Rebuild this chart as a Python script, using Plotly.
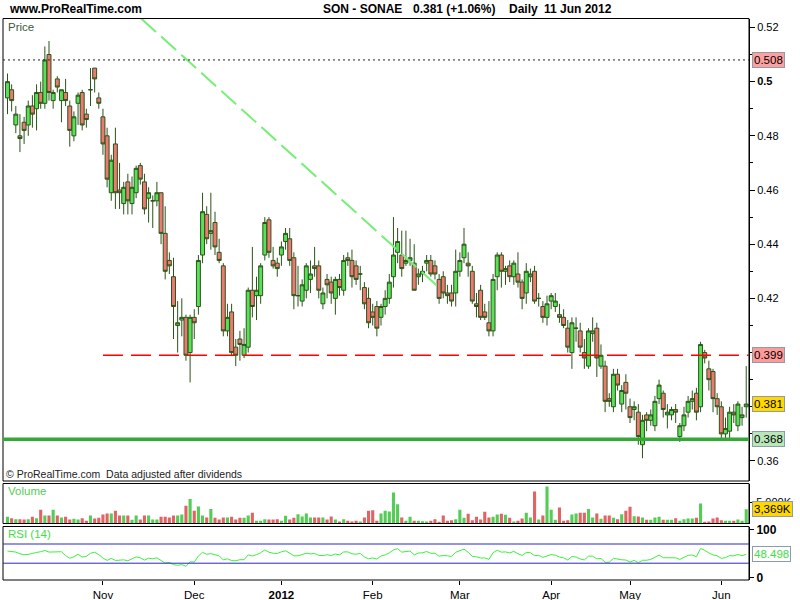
import numpy as np
import plotly.graph_objects as go

W, H = 800, 600

# ---------------- data ----------------
opens = [0.494, 0.497, 0.484, 0.480, 0.485, 0.484, 0.491, 0.490, 0.496, 0.492,
         0.510, 0.493, 0.501, 0.493, 0.496, 0.491, 0.480, 0.492, 0.496, 0.488,
         0.497, 0.505, 0.494, 0.487, 0.480, 0.459, 0.477, 0.460, 0.455, 0.463,
         0.455, 0.459, 0.469, 0.463, 0.457, 0.456, 0.456, 0.459, 0.444, 0.434,
         0.428, 0.410, 0.412, 0.413, 0.400, 0.413, 0.417, 0.436, 0.451, 0.444,
         0.448, 0.437, 0.432, 0.408, 0.415, 0.402, 0.405, 0.399, 0.402, 0.423,
         0.421, 0.421, 0.436, 0.449, 0.434, 0.433, 0.436, 0.441, 0.442, 0.435,
         0.421, 0.419, 0.423, 0.427, 0.432, 0.432, 0.418, 0.427, 0.426, 0.420,
         0.427, 0.423, 0.435, 0.434, 0.432, 0.429, 0.424, 0.420, 0.415, 0.417,
         0.413, 0.417, 0.420, 0.428, 0.437, 0.436, 0.433, 0.434, 0.433, 0.428,
         0.429, 0.433, 0.434, 0.432, 0.427, 0.428, 0.422, 0.422, 0.422, 0.430,
         0.435, 0.433, 0.430, 0.418, 0.423, 0.415, 0.411, 0.408, 0.428, 0.436,
         0.430, 0.432, 0.428, 0.429, 0.426, 0.422, 0.428, 0.430, 0.420, 0.417,
         0.413, 0.419, 0.417, 0.414, 0.413, 0.409, 0.400, 0.409, 0.408, 0.400,
         0.395, 0.407, 0.409, 0.395, 0.395, 0.383, 0.380, 0.392, 0.381, 0.389,
         0.380, 0.379, 0.378, 0.366, 0.377, 0.375, 0.373, 0.383, 0.385, 0.377,
         0.377, 0.379, 0.369, 0.373, 0.378, 0.382, 0.385, 0.380, 0.400, 0.394,
         0.393, 0.383, 0.380, 0.370, 0.371, 0.378, 0.373, 0.376, 0.380]
highs = [0.503, 0.499, 0.491, 0.488, 0.487, 0.493, 0.495, 0.499, 0.500, 0.513,
         0.515, 0.497, 0.502, 0.497, 0.501, 0.493, 0.489, 0.496, 0.497, 0.490,
         0.505, 0.505, 0.496, 0.490, 0.483, 0.473, 0.483, 0.470, 0.463, 0.466,
         0.465, 0.469, 0.470, 0.466, 0.461, 0.458, 0.463, 0.459, 0.454, 0.437,
         0.435, 0.419, 0.420, 0.414, 0.414, 0.416, 0.436, 0.459, 0.454, 0.459,
         0.452, 0.442, 0.433, 0.418, 0.418, 0.405, 0.408, 0.409, 0.424, 0.439,
         0.428, 0.433, 0.450, 0.450, 0.439, 0.435, 0.441, 0.446, 0.446, 0.437,
         0.432, 0.427, 0.433, 0.434, 0.439, 0.434, 0.424, 0.429, 0.428, 0.428,
         0.429, 0.436, 0.437, 0.438, 0.434, 0.432, 0.426, 0.424, 0.418, 0.419,
         0.418, 0.423, 0.429, 0.450, 0.446, 0.445, 0.445, 0.442, 0.440, 0.431,
         0.432, 0.436, 0.436, 0.434, 0.429, 0.430, 0.425, 0.425, 0.438, 0.437,
         0.446, 0.437, 0.432, 0.422, 0.425, 0.418, 0.419, 0.429, 0.437, 0.437,
         0.432, 0.434, 0.434, 0.437, 0.427, 0.433, 0.431, 0.432, 0.422, 0.419,
         0.421, 0.422, 0.422, 0.418, 0.416, 0.412, 0.413, 0.413, 0.411, 0.405,
         0.409, 0.413, 0.411, 0.403, 0.397, 0.385, 0.394, 0.394, 0.388, 0.392,
         0.383, 0.382, 0.381, 0.377, 0.378, 0.379, 0.384, 0.390, 0.386, 0.381,
         0.380, 0.381, 0.374, 0.380, 0.384, 0.386, 0.387, 0.404, 0.401, 0.397,
         0.394, 0.385, 0.382, 0.376, 0.380, 0.381, 0.382, 0.380, 0.395]
lows = [0.488, 0.489, 0.481, 0.474, 0.477, 0.480, 0.483, 0.482, 0.490, 0.490,
        0.493, 0.490, 0.496, 0.485, 0.491, 0.476, 0.478, 0.484, 0.482, 0.483,
        0.491, 0.496, 0.490, 0.473, 0.461, 0.456, 0.453, 0.453, 0.451, 0.451,
        0.451, 0.457, 0.462, 0.451, 0.448, 0.446, 0.454, 0.440, 0.427, 0.429,
        0.405, 0.400, 0.406, 0.397, 0.389, 0.405, 0.414, 0.433, 0.440, 0.438,
        0.436, 0.433, 0.406, 0.406, 0.399, 0.395, 0.397, 0.398, 0.400, 0.413,
        0.412, 0.418, 0.434, 0.435, 0.431, 0.428, 0.432, 0.438, 0.432, 0.416,
        0.417, 0.417, 0.420, 0.422, 0.428, 0.420, 0.416, 0.420, 0.418, 0.414,
        0.421, 0.421, 0.432, 0.424, 0.425, 0.423, 0.416, 0.409, 0.410, 0.406,
        0.410, 0.414, 0.418, 0.424, 0.433, 0.428, 0.432, 0.432, 0.423, 0.425,
        0.426, 0.430, 0.428, 0.427, 0.418, 0.420, 0.418, 0.417, 0.417, 0.428,
        0.433, 0.428, 0.418, 0.413, 0.412, 0.412, 0.406, 0.406, 0.423, 0.424,
        0.425, 0.426, 0.425, 0.424, 0.416, 0.418, 0.426, 0.418, 0.417, 0.411,
        0.410, 0.416, 0.415, 0.411, 0.409, 0.400, 0.394, 0.404, 0.400, 0.394,
        0.394, 0.404, 0.391, 0.394, 0.378, 0.380, 0.378, 0.386, 0.378, 0.379,
        0.374, 0.375, 0.366, 0.361, 0.371, 0.373, 0.371, 0.381, 0.376, 0.372,
        0.375, 0.374, 0.367, 0.371, 0.376, 0.379, 0.375, 0.378, 0.396, 0.386,
        0.378, 0.377, 0.368, 0.368, 0.368, 0.374, 0.371, 0.373, 0.376]
closes = [0.500, 0.493, 0.488, 0.479, 0.482, 0.491, 0.488, 0.496, 0.492, 0.508,
          0.496, 0.496, 0.498, 0.497, 0.493, 0.482, 0.487, 0.495, 0.484, 0.486,
          0.497, 0.501, 0.492, 0.477, 0.464, 0.471, 0.459, 0.459, 0.461, 0.456,
          0.461, 0.468, 0.464, 0.453, 0.459, 0.456, 0.459, 0.444, 0.430, 0.432,
          0.417, 0.411, 0.413, 0.399, 0.413, 0.411, 0.434, 0.452, 0.442, 0.445,
          0.439, 0.434, 0.408, 0.413, 0.400, 0.399, 0.403, 0.403, 0.423, 0.417,
          0.423, 0.432, 0.448, 0.437, 0.432, 0.431, 0.439, 0.444, 0.434, 0.421,
          0.421, 0.425, 0.432, 0.429, 0.431, 0.423, 0.422, 0.425, 0.422, 0.427,
          0.424, 0.434, 0.434, 0.428, 0.427, 0.429, 0.418, 0.411, 0.413, 0.409,
          0.417, 0.420, 0.426, 0.436, 0.441, 0.431, 0.434, 0.435, 0.423, 0.429,
          0.430, 0.434, 0.429, 0.429, 0.420, 0.422, 0.421, 0.419, 0.430, 0.434,
          0.440, 0.432, 0.419, 0.417, 0.413, 0.413, 0.408, 0.427, 0.436, 0.430,
          0.431, 0.428, 0.433, 0.426, 0.420, 0.430, 0.429, 0.419, 0.420, 0.413,
          0.418, 0.421, 0.419, 0.413, 0.410, 0.402, 0.411, 0.409, 0.402, 0.398,
          0.408, 0.408, 0.398, 0.399, 0.382, 0.382, 0.392, 0.388, 0.386, 0.385,
          0.376, 0.380, 0.369, 0.375, 0.375, 0.377, 0.382, 0.388, 0.379, 0.378,
          0.379, 0.378, 0.373, 0.377, 0.382, 0.383, 0.378, 0.403, 0.398, 0.390,
          0.383, 0.380, 0.370, 0.372, 0.378, 0.377, 0.381, 0.377, 0.381]
volumes_k = [1580, 1270, 1030, 1030, 950, 1030, 1580, 1270, 3250, 1900,
             1900, 3250, 1900, 1430, 1580, 950, 1110, 950, 1270, 630,
             1900, 1190, 1350, 2140, 2380, 2380, 3010, 1900, 1900, 1900,
             870, 1900, 950, 1900, 1900, 950, 950, 1580, 1580, 1430,
             1900, 1900, 2140, 4200, 5860, 3010, 4040, 1900, 1430, 3480,
             1350, 950, 1430, 1430, 1580, 950, 1350, 1350, 1900, 2530,
             630, 630, 1030, 950, 950, 1030, 630, 1820, 950, 1350,
             2220, 1660, 2380, 1430, 1430, 1430, 1430, 950, 1660, 950,
             480, 1030, 630, 480, 630, 480, 1430, 3010, 3170, 630,
             2380, 3010, 2850, 7360, 4590, 1430, 630, 1580, 630, 630,
             550, 480, 630, 1030, 400, 1900, 630, 790, 1030, 3250,
             1350, 2300, 790, 1580, 950, 2770, 1430, 1580, 2140, 2300,
             2060, 1350, 480, 630, 1190, 2530, 1430, 7600, 950, 1900,
             8790, 3250, 870, 3800, 630, 790, 2140, 2380, 2530, 2530,
             3480, 1430, 2380, 1110, 1900, 1900, 1350, 1030, 2220, 3010,
             3960, 1740, 1660, 1430, 870, 870, 1430, 1580, 870, 870,
             870, 1270, 630, 1030, 1190, 1190, 1350, 4750, 400, 480,
             1190, 1430, 790, 630, 630, 630, 950, 630, 3369]
# RSI values read for the first 14 sessions (before a 14-day window exists)
rsi_head = [55.3, 54.6, 53.2, 49.7, 47.6, 48.3, 51.1, 52.5, 53.9, 56.7,
            53.2, 53.9, 54.6, 53.9]

month_tick_idx = [23, 45, 66, 88, 109, 131, 150, 172]
month_tick_text = ["Nov", "Dec", "<b>2012</b>", "Feb", "Mar", "Apr", "May", "Jun"]

price_ticks = [0.36, 0.38, 0.40, 0.42, 0.44, 0.46, 0.48, 0.50, 0.52]
price_tick_text = ["0.36", "0.38", "0.4", "0.42", "0.44", "0.46", "0.48", "<b>0.5</b>", "0.52"]

level_high = 0.508        # dotted black line
level_resistance = 0.399  # red dashed line
level_support = 0.368     # green line
resistance_start_idx = 23
last_price = 0.381
last_volume_k = 3369
last_rsi_text = "48.498"
trend_idx = [32.2, 103.7]
trend_price = [0.5233, 0.4244]
rsi_levels = [70, 30]

header_left = "www.ProRealTime.com"
header_parts = ["SON - SONAE", "0.381 (+1.06%)", "Daily", "11 Jun 2012"]
copyright_text = "© ProRealTime.com  Data adjusted after dividends"

# ---------------- derived ----------------
n = len(closes)
idx = list(range(n))

# RSI(14), Wilder smoothing
c = np.array(closes)
d = np.diff(c)
gain = np.clip(d, 0, None)
loss = np.clip(-d, 0, None)
period = 14
rsi = list(rsi_head) + [None] * (n - len(rsi_head))
ag = gain[:period].mean()
al = loss[:period].mean()
rsi[period] = 100 - 100 / (1 + ag / al)
for i in range(period + 1, n):
    ag = (ag * (period - 1) + gain[i - 1]) / period
    al = (al * (period - 1) + loss[i - 1]) / period
    rsi[i] = 100 - 100 / (1 + ag / al)

GREEN = "#58e058"
RED = "#f07872"
OUTLINE = "#2a5518"
VGREEN = "#55cc55"
VRED = "#e06464"
vol_colors = [VGREEN if cl >= op else VRED for op, cl in zip(opens, closes)]

ARIAL = "Liberation Sans, Arial, sans-serif"


def py(p):
    return 1 - p / H


def px(p):
    return p / W


X0, X1 = 3, 749
x_range = [-1.084, 178.67]

fig = go.Figure()

fig.add_trace(go.Candlestick(
    x=idx, open=opens, high=highs, low=lows, close=closes,
    increasing=dict(fillcolor=GREEN, line=dict(color=OUTLINE, width=1)),
    decreasing=dict(fillcolor=RED, line=dict(color=OUTLINE, width=1)),
    whiskerwidth=0, showlegend=False, hoverinfo="skip",
    xaxis="x", yaxis="y"))

fig.add_trace(go.Scatter(
    x=trend_idx, y=trend_price, mode="lines",
    line=dict(color="#77ee77", width=2, dash="20px,7px"),
    showlegend=False, hoverinfo="skip", xaxis="x", yaxis="y"))

fig.add_trace(go.Bar(
    x=idx, y=volumes_k, marker=dict(color=vol_colors, line=dict(width=0)),
    showlegend=False, hoverinfo="skip", xaxis="x", yaxis="y2"))

fig.add_trace(go.Scatter(
    x=idx, y=rsi, mode="lines", line=dict(color="#3cf03c", width=1),
    showlegend=False, hoverinfo="skip", xaxis="x", yaxis="y3"))

shapes = []
# panel frames
for top, bot in [(18.5, 481), (483.5, 523.5), (526.5, 580)]:
    shapes.append(dict(type="rect", xref="paper", yref="paper",
                       x0=px(X0), x1=px(X1), y0=py(bot), y1=py(top),
                       line=dict(color="black", width=1), layer="above"))
# horizontal levels
shapes.append(dict(type="line", xref="paper", yref="y", x0=px(X0), x1=px(X1),
                   y0=level_high, y1=level_high,
                   line=dict(color="#222222", width=1, dash="2px,3px")))
shapes.append(dict(type="line", xref="x", yref="y", x0=resistance_start_idx, x1=x_range[1],
                   y0=level_resistance, y1=level_resistance,
                   line=dict(color="#ff0000", width=1.5, dash="20px,8px")))
shapes.append(dict(type="line", xref="paper", yref="y", x0=px(X0), x1=px(X1),
                   y0=level_support, y1=level_support,
                   line=dict(color="#33a833", width=3.5)))
for lv in rsi_levels:
    shapes.append(dict(type="line", xref="paper", yref="y3", x0=px(X0), x1=px(X1),
                       y0=lv, y1=lv, line=dict(color="#2828c8", width=1)))

annotations = []


def value_box(text, y, yref, bg, fg="black"):
    annotations.append(dict(
        text=text, x=px(752), xref="paper", y=y, yref=yref,
        xanchor="left", yanchor="middle", showarrow=False,
        bgcolor=bg, bordercolor="#8d9cab", borderwidth=1, borderpad=1,
        font=dict(family=ARIAL, size=11.5, color=fg)))


value_box(f"{level_high:.3f}", level_high, "y", "#ffa0a0")
value_box(f"{level_resistance:.3f}", level_resistance, "y", "#ff9a9a")
value_box(f"{last_price:.3f}", last_price, "y", "#ffd800")
value_box(f"{level_support:.3f}", level_support, "y", "#b8e8b8")
value_box(f"{last_volume_k:,}K", last_volume_k, "y2", "#ffd800")
value_box(last_rsi_text, float(last_rsi_text), "y3", "white", "#44dd44")

annotations.append(dict(text=f"<b>{header_left}</b>", x=px(7), y=py(9), xref="paper", yref="paper",
                        xanchor="left", yanchor="middle", showarrow=False,
                        font=dict(family=ARIAL, size=12, color="black")))
for txt, xl in zip(header_parts, [321, 411, 507, 542]):
    annotations.append(dict(text=f"<b>{txt}</b>", x=px(xl), y=py(9), xref="paper", yref="paper",
                            xanchor="left", yanchor="middle", showarrow=False,
                            font=dict(family=ARIAL, size=12, color="black")))
annotations.append(dict(text="Price", x=px(6), y=py(27), xref="paper", yref="paper",
                        xanchor="left", yanchor="middle", showarrow=False,
                        font=dict(family=ARIAL, size=11.5, color="#3a5a3a")))
annotations.append(dict(text=copyright_text, x=px(4), y=py(474), xref="paper", yref="paper",
                        xanchor="left", yanchor="middle", showarrow=False,
                        font=dict(family=ARIAL, size=10.5, color="#222222")))
annotations.append(dict(text="Volume", x=px(6), y=py(491), xref="paper", yref="paper",
                        xanchor="left", yanchor="middle", showarrow=False,
                        font=dict(family=ARIAL, size=11.5, color="#55cc55")))
annotations.append(dict(text="RSI (14)", x=px(6), y=py(534), xref="paper", yref="paper",
                        xanchor="left", yanchor="middle", showarrow=False,
                        font=dict(family=ARIAL, size=11.5, color="#44dd44")))

axis_common = dict(showgrid=False, zeroline=False, showline=True, linecolor="black",
                   linewidth=1, ticks="outside", tickcolor="black", side="right",
                   anchor="x", fixedrange=True, automargin=False)

fig.update_layout(
    width=W, height=H, autosize=False,
    margin=dict(l=0, r=0, t=0, b=0, pad=0, autoexpand=False),
    paper_bgcolor="white", plot_bgcolor="white",
    showlegend=False, bargap=0.25, boxgap=0.05, boxgroupgap=0,
    shapes=shapes, annotations=annotations,
    xaxis=dict(domain=[px(X0), px(X1)], range=x_range, anchor="y3",
               showgrid=False, zeroline=False, showline=False, automargin=False,
               tickvals=month_tick_idx, ticktext=month_tick_text,
               ticks="outside", ticklen=4, tickcolor="black",
               tickfont=dict(family=ARIAL, size=11.5, color="black"),
               rangeslider=dict(visible=False), fixedrange=True),
    yaxis=dict(domain=[py(481), py(18.5)], range=[0.3526, 0.5233],
               tickvals=price_ticks, ticktext=price_tick_text, ticklen=5,
               minor=dict(tickvals=[round(v + 0.01, 3) for v in price_ticks[:-1]],
                          ticks="outside", ticklen=3, tickcolor="black"),
               tickfont=dict(family=ARIAL, size=11, color="black"), **axis_common),
    yaxis2=dict(domain=[py(523.5), py(483.5)], range=[0, 9524],
                tickvals=[5000], ticktext=["5,000K"], ticklen=4,
                tickfont=dict(family=ARIAL, size=11, color="black"), **axis_common),
    yaxis3=dict(domain=[py(580), py(526.5)], range=[-5, 106.5],
                tickvals=[0, 100], ticktext=["<b>0</b>", "<b>100</b>"], ticklen=4,
                tickfont=dict(family=ARIAL, size=12, color="black"), **axis_common),
)

fig.write_html(
    "out.html",
    config={"displayModeBar": False, "staticPlot": True},
    post_script=(
        "document.documentElement.style.margin='0';"
        "document.body.style.margin='0';document.body.style.padding='0';"
        "document.documentElement.style.overflow='hidden';"
        "var d=document.getElementById('{plot_id}');"
        "d.style.position='fixed';d.style.top='0px';d.style.left='0px';"
    ),
)
